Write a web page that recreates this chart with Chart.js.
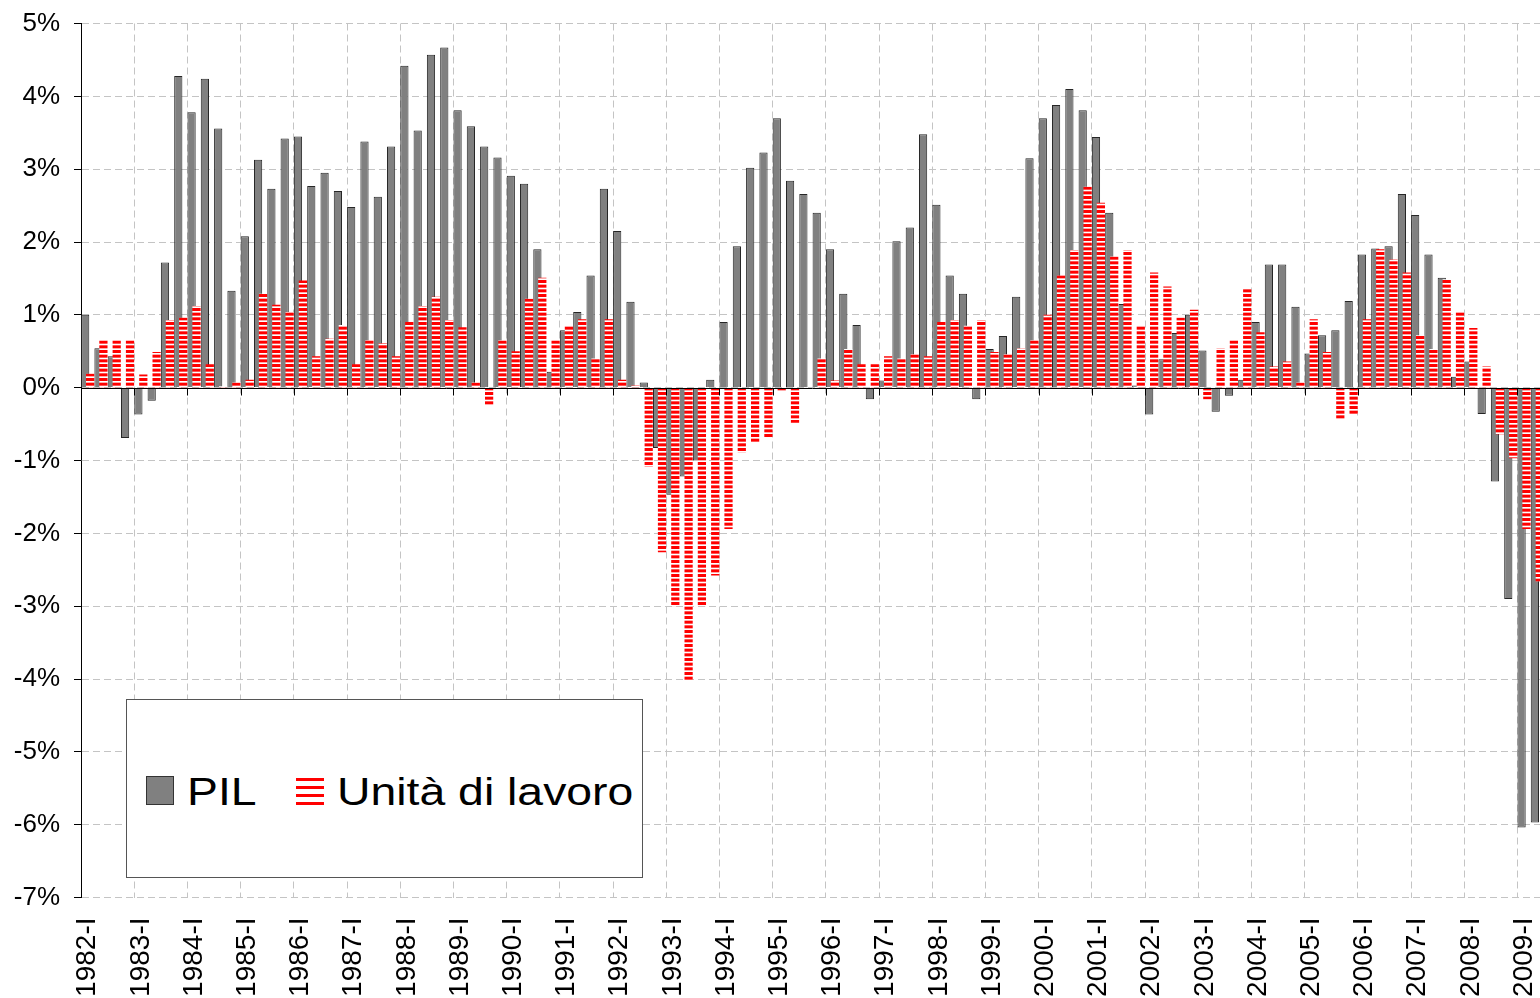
<!DOCTYPE html>
<html>
<head>
<meta charset="utf-8">
<script src="https://cdn.jsdelivr.net/npm/chart.js@4.4.1/dist/chart.umd.min.js"></script>
<style>
  html, body { margin: 0; padding: 0; background: #fff; overflow: hidden; }
  #wrap { position: relative; width: 1544px; height: 998px; }
  #chart { display: block; }
  #legend {
    position: absolute; left: 126px; top: 699px; width: 517px; height: 179px;
    box-sizing: border-box; border: 1.5px solid #555; background: #fff;
    font-family: "Liberation Sans", Arial, sans-serif;
  }
  .sw { position: absolute; box-sizing: border-box; }
  .sw.pil { left: 18.5px; top: 75.5px; width: 28px; height: 29px; background: #808080; border: 1px solid #333; }
  .sw.ul { left: 168.5px; top: 77.5px; width: 28px; height: 27px;
    background: repeating-linear-gradient(to bottom, #ff0000 0 3.4px, #fff 3.4px 7.9px); }
  .txt { position: absolute; top: 72.8px; font-size: 38px; line-height: 38px; white-space: nowrap;
    transform: scaleX(1.22); transform-origin: 0 0; color: #000; }
</style>
</head>
<body>
<div id="wrap">
  <canvas id="chart" width="1544" height="998"></canvas>
  <div id="legend">
    <div class="sw pil"></div><div class="txt" style="left:60px">PIL</div>
    <div class="sw ul"></div><div class="txt" style="left:209.8px">Unità di lavoro</div>
  </div>
</div>
<script>
// quarters 1982-I .. 2009-II
const years = [1982, 1983, 1984, 1985, 1986, 1987, 1988, 1989, 1990, 1991, 1992, 1993, 1994, 1995,
  1996, 1997, 1998, 1999, 2000, 2001, 2002, 2003, 2004, 2005, 2006, 2007, 2008, 2009];
const quarters = ["I", "II", "III", "IV"];

// PIL, variazione % tendenziale
const pil = [
  1.00, 0.54, 0.43, -0.69, -0.37, -0.18, 1.72, 4.28, 3.78, 4.24, 3.56, 1.33,
  2.08, 3.13, 2.73, 3.42, 3.45, 2.77, 2.95, 2.70, 2.48, 3.38, 2.62, 3.31,
  4.42, 3.53, 4.57, 4.67, 3.81, 3.59, 3.31, 3.16, 2.91, 2.80, 1.90, 0.22,
  0.79, 1.04, 1.54, 2.73, 2.15, 1.18, 0.07, -0.83, -1.47, -1.22, -1.00, 0.11,
  0.90, 1.94, 3.02, 3.23, 3.70, 2.84, 2.66, 2.40, 1.90, 1.29, 0.86, -0.16,
  0.10, 2.01, 2.20, 3.48, 2.51, 1.54, 1.29, -0.16, 0.53, 0.71, 1.25, 3.15,
  3.70, 3.88, 4.10, 3.81, 3.44, 2.40, 1.15, 0.03, -0.37, 0.39, 0.75, 1.00,
  0.51, -0.33, -0.11, 0.11, 0.90, 1.69, 1.69, 1.11, 0.47, 0.72, 0.79, 1.19,
  1.83, 1.91, 1.94, 2.66, 2.37, 1.83, 1.51, 0.15, 0.36, -0.36, -1.29, -2.90,
  -6.04, -5.97
];

// Unità di lavoro, variazione % tendenziale
const ula = [
  0.19, 0.65, 0.65, 0.65, 0.18, 0.49, 0.93, 0.96, 1.12, 0.32, 0.02, 0.07,
  0.11, 1.29, 1.14, 1.04, 1.47, 0.43, 0.67, 0.86, 0.32, 0.65, 0.61, 0.43,
  0.90, 1.12, 1.25, 0.93, 0.83, 0.07, -0.25, 0.65, 0.50, 1.22, 1.51, 0.65,
  0.86, 0.94, 0.40, 0.94, 0.11, 0.03, -1.09, -2.26, -3.00, -4.02, -3.00, -2.58,
  -1.94, -0.89, -0.76, -0.68, -0.05, -0.48, 0.00, 0.40, 0.10, 0.53, 0.32, 0.32,
  0.43, 0.40, 0.46, 0.43, 0.90, 0.93, 0.85, 0.93, 0.49, 0.46, 0.54, 0.65,
  1.00, 1.54, 1.89, 2.76, 2.54, 1.80, 1.89, 0.85, 1.58, 1.39, 0.96, 1.07,
  -0.16, 0.54, 0.65, 1.36, 0.76, 0.29, 0.36, 0.07, 0.94, 0.49, -0.44, -0.36,
  0.94, 1.90, 1.76, 1.58, 0.72, 0.53, 1.49, 1.04, 0.82, 0.29, -0.64, -0.97,
  -1.94, -2.66
];

const yTicks = [-7, -6, -5, -4, -3, -2, -1, 0, 1, 2, 3, 4, 5];

const labels = [];
years.forEach((y) => quarters.forEach((q) => labels.push(y + "-" + q)));
labels.length = pil.length;

function stripes() {
  const c = document.createElement("canvas");
  c.width = 8;
  c.height = 14;
  const g = c.getContext("2d");
  g.fillStyle = "#fff";
  g.fillRect(0, 0, 8, 14);
  g.fillStyle = "#ff0000";
  for (let k = 0; k < 3; k++) g.fillRect(0, (k * 14) / 3, 8, 3);
  return g.createPattern(c, "repeat");
}

const gridGrey = "#c4c4c4";
const font = "'Liberation Sans', Arial, sans-serif";

// red series goes on top of the grey one, as in the original
const redOnTop = {
  id: "redOnTop",
  beforeDatasetDraw(chart, args) {
    if (args.index === 1) return false;
  },
  afterDatasetsDraw(chart) {
    const { ctx, chartArea: a } = chart;
    ctx.save();
    ctx.beginPath();
    ctx.rect(a.left, a.top, a.right - a.left, a.bottom - a.top);
    ctx.clip();
    chart.getDatasetMeta(1).controller.draw();
    ctx.restore();

    // horizontal axis crossing at 0 with its tick marks
    const x = chart.scales.x;
    const y0 = Math.round(chart.scales.y.getPixelForValue(0)) + 0.5;
    ctx.save();
    ctx.strokeStyle = "#000";
    ctx.lineWidth = 1;
    ctx.beginPath();
    ctx.moveTo(a.left, y0);
    ctx.lineTo(a.right, y0);
    const step = (a.right - a.left) / labels.length;
    for (let i = 4; i < labels.length; i += 4) {
      const px = Math.round(x.getPixelForValue(i) - step / 2) + 0.5;
      ctx.moveTo(px, y0);
      ctx.lineTo(px, y0 + 7);
    }
    ctx.stroke();
    ctx.restore();
  },
};

new Chart(document.getElementById("chart"), {
  type: "bar",
  data: {
    labels: labels,
    datasets: [
      {
        label: "PIL",
        data: pil,
        backgroundColor: "#808080",
        borderColor: "#262626",
        borderWidth: 1,
        categoryPercentage: 0.74,
        barPercentage: 1.67,
      },
      {
        label: "Unità di lavoro",
        data: ula,
        backgroundColor: stripes(),
        borderWidth: 0,
        categoryPercentage: 0.74,
        barPercentage: 1.67,
      },
    ],
  },
  options: {
    responsive: false,
    animation: false,
    devicePixelRatio: 1,
    layout: { padding: { top: 23.5, right: 0, bottom: 0, left: 0 } },
    plugins: { legend: { display: false }, tooltip: { enabled: false } },
    scales: {
      x: {
        offset: true,
        afterFit: (s) => {
          s.height = 100.5;
          s.paddingLeft = 0;
          s.paddingRight = 0;
        },
        border: { display: false, dash: [7, 4] },
        grid: {
          offset: true,
          drawTicks: false,
          color: (c) => (c.index % 4 === 0 ? gridGrey : "rgba(0,0,0,0)"),
        },
        ticks: {
          autoSkip: false,
          maxRotation: 90,
          minRotation: 90,
          padding: 20,
          color: "#000",
          font: { family: font, size: 28 },
          callback: (v, i) => (i % 4 === 0 ? labels[i] : ""),
        },
      },
      y: {
        min: yTicks[0],
        max: yTicks[yTicks.length - 1],
        afterFit: (s) => {
          s.width = 81;
          s.paddingTop = 0;
          s.paddingBottom = 0;
        },
        afterBuildTicks: (s) => { s.ticks = yTicks.map((v) => ({ value: v })); },
        border: { display: true, color: "#000", width: 1, dash: [7, 4] },
        grid: { color: gridGrey, tickColor: "#000", tickLength: 7, tickBorderDash: [] },
        ticks: {
          padding: 14,
          color: "#000",
          font: { family: font, size: 26 },
          callback: (v) => v + "%",
        },
      },
    },
  },
  plugins: [redOnTop],
});
</script>
</body>
</html>
